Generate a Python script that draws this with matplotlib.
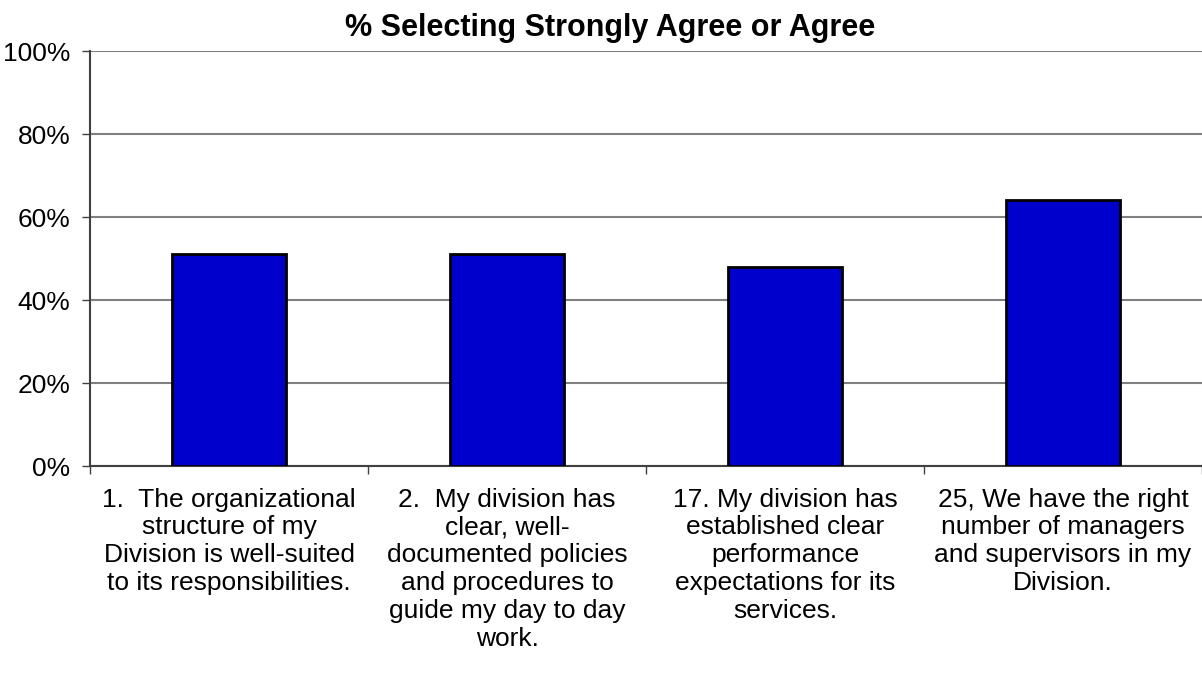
import matplotlib.pyplot as plt
from matplotlib.ticker import PercentFormatter

plt.rcParams['font.family'] = ['Liberation Sans', 'DejaVu Sans']

questions = [
    "1.  The organizational\nstructure of my\nDivision is well-suited\nto its responsibilities.",
    "2.  My division has\nclear, well-\ndocumented policies\nand procedures to\nguide my day to day\nwork.",
    "17. My division has\nestablished clear\nperformance\nexpectations for its\nservices.",
    "25, We have the right\nnumber of managers\nand supervisors in my\nDivision.",
]
agree_pct = [51, 51, 48, 64]
y_ticks = [0, 20, 40, 60, 80, 100]

fig = plt.figure(figsize=(12.02, 6.75), dpi=100)
ax = fig.add_axes([0.0749, 0.3096, 0.9251, 0.6148])

x = range(len(questions))
ax.bar(x, agree_pct, width=0.41, color='#0000CC', edgecolor='black',
       linewidth=2, zorder=3)

ax.set_xlim(-0.5, len(questions) - 0.5)
ax.set_ylim(0, 100)
ax.set_yticks(y_ticks)
ax.yaxis.set_major_formatter(PercentFormatter(decimals=0))
ax.tick_params(axis='y', labelsize=19, length=6, width=1, color='#404040', pad=8)

# category boundaries get tick marks, labels sit at the centers
ax.set_xticks([i - 0.5 for i in x] + [len(questions) - 0.5])
ax.set_xticklabels([])
ax.tick_params(axis='x', length=6, width=1, color='#404040')
for i, q in zip(x, questions):
    ax.annotate(q, xy=(i, 0), xycoords=('data', 'axes fraction'),
                xytext=(0, -15.5), textcoords='offset points',
                ha='center', va='top', fontsize=19, linespacing=1.2)

ax.yaxis.grid(True, color='#808080', linewidth=1.5, zorder=0)
for side in ('top', 'right'):
    ax.spines[side].set_visible(False)
ax.spines['left'].set_color('#404040')
ax.spines['bottom'].set_color('#404040')
ax.spines['left'].set_linewidth(1.5)
ax.spines['bottom'].set_linewidth(1.5)

fig.text(0.508, 0.959, '% Selecting Strongly Agree or Agree', ha='center',
         va='center', fontsize=22, fontweight='bold')

fig.savefig('out.png', dpi=100)
